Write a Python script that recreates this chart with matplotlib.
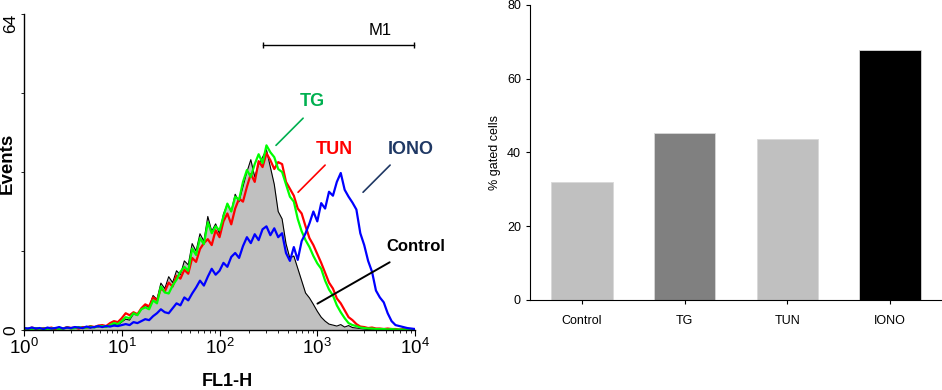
import numpy as np
import matplotlib
matplotlib.use('Agg')
import matplotlib.pyplot as plt

plt.rcParams['font.family'] = ['Liberation Sans', 'DejaVu Sans']
plt.rcParams['mathtext.default'] = 'regular'

# FL1-H channels: 101 points evenly spaced on the log axis, 10^0 .. 10^4
channels = np.logspace(0, 4, 101)

control = [0.3, 0.2, 0.4, 0.2, 0.3, 0.2, 0.4, 0.3, 0.2, 0.5, 0.3, 0.4, 0.3, 0.5, 0.4, 0.6, 0.5, 0.4, 0.7, 0.6,
           0.8, 0.7, 1.0, 1.2, 1.0, 1.6, 2.2, 2.0, 3.2, 3.0, 4.2, 5.0, 4.6, 7.0, 6.2, 9.5, 8.4, 10.8, 9.6, 12.0,
           11.2, 14.0, 13.2, 17.5, 16.0, 19.5, 18.0, 23.0, 20.0, 21.5, 19.5, 23.5, 25.5, 24.0, 27.5, 26.0, 29.0, 32.0, 34.5, 31.0,
           33.5, 35.0, 36.5, 33.0, 29.5, 24.0, 22.5, 17.5, 14.5, 15.0, 12.5, 10.0, 7.5, 6.5, 5.2, 3.8, 2.6, 1.8, 1.2, 1.0,
           0.8, 1.1, 0.6, 0.9, 0.5, 0.4, 0.3, 0.2, 0.1, 0.2, 0.1, 0.1, 0.1, 0.0, 0.1, 0.0, 0.0, 0.0, 0.0, 0.0,
           0.0]
tg = [0.2, 0.3, 0.2, 0.4, 0.2, 0.3, 0.2, 0.3, 0.4, 0.2, 0.3, 0.5, 0.3, 0.4, 0.6, 0.4, 0.5, 0.7, 0.5, 0.8,
      0.8, 0.6, 1.0, 1.4, 1.2, 1.8, 2.6, 2.4, 3.4, 3.0, 4.2, 4.6, 4.2, 6.0, 5.4, 8.8, 7.6, 7.4, 9.0, 10.2,
      11.8, 12.8, 12.0, 16.5, 15.2, 18.6, 17.4, 21.8, 19.6, 21.0, 20.2, 23.0, 25.6, 24.0, 27.0, 26.4, 30.0, 32.4, 31.0, 33.6,
      35.6, 33.8, 37.4, 36.0, 35.0, 32.6, 32.0, 29.5, 27.0, 26.0, 22.5, 20.0, 18.2, 16.8, 15.0, 13.5, 12.4, 10.0, 8.2, 7.0,
      5.0, 3.6, 2.4, 1.4, 1.0, 0.8, 0.5, 0.4, 0.3, 0.3, 0.2, 0.2, 0.2, 0.1, 0.2, 0.1, 0.1, 0.1, 0.1, 0.1,
      0.1]
tun = [0.3, 0.2, 0.5, 0.3, 0.2, 0.4, 0.3, 0.5, 0.2, 0.4, 0.3, 0.6, 0.4, 0.5, 0.3, 0.6, 0.5, 0.8, 0.6, 0.9,
       1.0, 0.8, 1.4, 1.8, 1.6, 2.4, 3.4, 3.0, 3.6, 3.2, 4.4, 5.2, 4.8, 6.6, 6.0, 8.4, 7.8, 9.6, 8.8, 11.0,
       10.4, 12.2, 11.4, 14.6, 13.8, 16.4, 17.6, 18.4, 17.2, 20.2, 18.8, 22.0, 23.6, 21.4, 24.6, 26.6, 26.0, 29.0, 31.6, 30.0,
       34.2, 33.0, 35.8, 34.4, 32.6, 34.0, 33.6, 30.0, 28.6, 27.2, 24.6, 23.6, 21.0, 18.6, 17.2, 15.4, 13.6, 11.6, 9.6, 8.4,
       6.4, 5.4, 4.0, 2.6, 2.0, 1.2, 0.7, 0.6, 0.4, 0.5, 0.3, 0.3, 0.2, 0.3, 0.2, 0.2, 0.1, 0.2, 0.1, 0.1,
       0.1]
iono = [0.4, 0.3, 0.5, 0.3, 0.4, 0.2, 0.5, 0.3, 0.4, 0.6, 0.3, 0.5, 0.4, 0.6, 0.5, 0.4, 0.7, 0.5, 0.6, 0.8,
        0.6, 0.8, 0.7, 0.9, 0.8, 1.0, 1.2, 1.0, 1.6, 1.4, 1.8, 2.2, 2.0, 2.8, 3.4, 4.2, 3.6, 3.4, 4.4, 5.4,
        5.0, 6.6, 6.0, 7.4, 8.6, 10.0, 9.0, 10.8, 12.4, 11.2, 12.0, 13.6, 12.8, 14.8, 15.6, 14.6, 17.0, 18.8, 17.6, 19.4,
        18.2, 20.4, 21.0, 19.2, 20.6, 18.8, 19.6, 15.6, 14.0, 16.8, 14.2, 18.0, 19.6, 21.6, 24.0, 22.0, 25.7, 24.6, 28.0, 27.2,
        30.0, 31.8, 28.4, 27.0, 25.8, 24.4, 19.6, 17.2, 14.0, 11.8, 8.0, 6.6, 5.6, 3.4, 1.8, 1.0, 0.8, 0.6, 0.4, 0.3,
        0.2]

# bar chart data
groups = ['Control', 'TG', 'TUN', 'IONO']
gated = [32.0, 45.4, 43.6, 67.8]
bar_colors = ['#c0c0c0', '#808080', '#c0c0c0', '#000000']

fig = plt.figure(figsize=(9.42, 3.9), dpi=100)

# ---- left: FL1-H histogram overlay
ax = fig.add_axes([0.0255, 0.1538, 0.4151, 0.8103])
ax.fill_between(channels, control, color='#c0c0c0', lw=0)
ax.plot(channels, control, color='black', lw=0.8)
ax.plot(channels, tun, color='#ff0000', lw=1.6)
ax.plot(channels, tg, color='#00ff00', lw=1.6)
ax.plot(channels, iono, color='#0000ff', lw=1.6)
ax.set_xscale('log')
ax.set_xlim(1, 1e4)
ax.set_ylim(0, 64)
ax.spines['top'].set_visible(False)
ax.spines['right'].set_visible(False)
ax.spines['left'].set_linewidth(1.0)
ax.spines['bottom'].set_linewidth(1.0)
ax.set_xticks([1, 10, 100, 1000, 10000])
ax.set_xticklabels(['$10^{0}$', '$10^{1}$', '$10^{2}$', '$10^{3}$', '$10^{4}$'], fontsize=13.5)
ax.tick_params(axis='x', which='major', length=4, width=0.8, pad=2)
ax.tick_params(axis='x', which='minor', length=2.5, width=0.6)
ax.set_yticks([0, 16, 32, 48, 64])
ax.set_yticklabels(['0', '', '', '', '64'], rotation=90, va='center', fontsize=12.5)
ax.tick_params(axis='y', length=2, width=0.6, pad=2)
ax.get_yticklabels()[-1].set_va('top')

# M1 marker gate
ax.plot([277, 9800], [57.7, 57.7], color='black', lw=1, marker='|', ms=5, clip_on=False)
ax.text(4365, 60.7, 'M1', fontsize=12, ha='center', va='center')

# curve labels
ax.annotate('', xy=(361, 37.0), xytext=(750, 43.3),
            arrowprops=dict(arrowstyle='-', color='#00b050', lw=1.2))
ax.text(884, 46.2, 'TG', color='#00b050', fontsize=13, fontweight='bold', ha='center', va='center')
ax.annotate('', xy=(607, 27.5), xytext=(1259, 33.8),
            arrowprops=dict(arrowstyle='-', color='#ff0000', lw=1.2))
ax.text(1483, 36.6, 'TUN', color='#ff0000', fontsize=13, fontweight='bold', ha='center', va='center')
ax.annotate('', xy=(2805, 27.5), xytext=(5821, 33.8),
            arrowprops=dict(arrowstyle='-', color='#1f3864', lw=1.2))
ax.text(9103, 36.6, 'IONO', color='#1f3864', fontsize=13, fontweight='bold', ha='center', va='center',
        clip_on=False)
ax.annotate('', xy=(948, 5.06), xytext=(5821, 14.0),
            arrowprops=dict(arrowstyle='-', color='black', lw=1.4))
ax.text(10240, 17.0, 'Control', color='black', fontsize=12, fontweight='bold', ha='center', va='center',
        clip_on=False)

fig.text(7 / 942, 1 - 163 / 390, 'Events', rotation=90, fontsize=13.5, fontweight='bold',
         ha='center', va='center')
fig.text(227 / 942, (390 - 373) / 390, 'FL1-H', fontsize=13, fontweight='bold',
         ha='center', va='top')

# ---- right: % gated cells
bx = fig.add_axes([0.5626, 0.2308, 0.4374, 0.7564])
bx.bar(range(len(groups)), gated, width=0.6, color=bar_colors, edgecolor='#d8d8d8', lw=0.6)
bx.set_xlim(-0.505, 3.505)
bx.set_ylim(0, 80)
bx.set_yticks([0, 20, 40, 60, 80])
bx.set_xticks(range(len(groups)))
bx.set_xticklabels(groups, fontsize=9)
bx.tick_params(axis='y', labelsize=9, length=3, width=0.8)
bx.tick_params(axis='x', length=3, width=0.8, pad=8)
bx.spines['top'].set_visible(False)
bx.spines['right'].set_visible(False)
bx.set_ylabel('% gated cells', fontsize=9)

fig.savefig('out.png', dpi=100)
